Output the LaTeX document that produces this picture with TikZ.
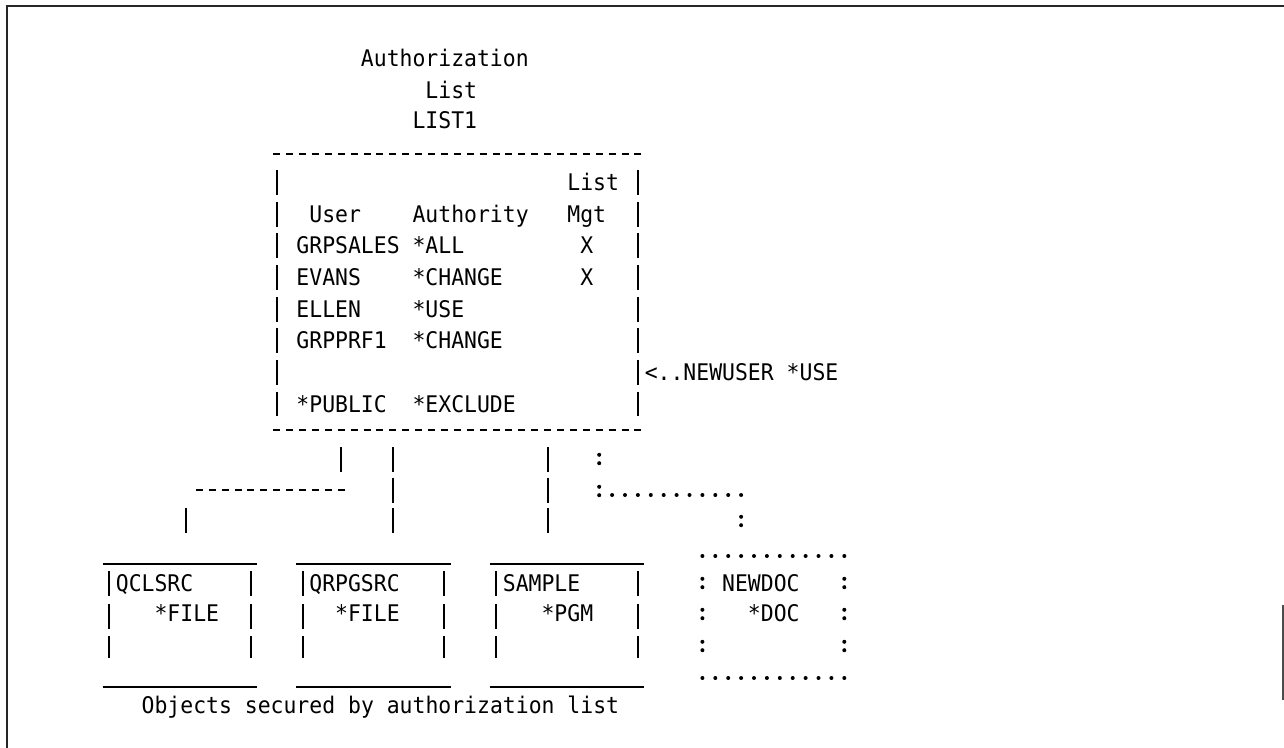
\documentclass[tikz,border=0pt]{standalone}
\usepackage{fontspec}
\usepackage{tikz}
\usetikzlibrary{calc}
\newfontfamily\ibmmono[FakeStretch=0.936]{DejaVu Sans Mono}

\begin{document}
\begin{tikzpicture}[x=6.45pt,y=-0.5pt,
    mono/.style={font=\ibmmono\fontsize{11.45pt}{13pt}\selectfont,inner sep=0pt,anchor=base west},
    hdash/.style={line width=1.35pt,dash pattern=on 3.5pt off 2.95pt},
    vbar/.style={line width=1pt,dash pattern=on 12.5pt off #1},
    dotrow/.style={line width=2pt,line cap=round,dash pattern=on 0pt off 6.45pt},
    boxline/.style={line width=0.95pt}]
  \useasboundingbox (-8.4496,0) rectangle (91.0853,748);
  \newcommand{\colonat}[3]{\coordinate (#3) at (#1,#2);
    \fill ($(#3)+(0,-4.2)$) circle[radius=1pt] ($(#3)+(0,4.2)$) circle[radius=1pt];}

  % Page frame
  \draw[line width=1pt,black!85] (-7.907,748) -- (-7.907,6) -- (91.085,6);
  \draw[line width=1pt,black!70] (91.0,605) -- (91.0,700);

  % Authorization list
  \node[mono] (authtitle) at (19.5,66.4) {Authorization};
  \node[mono] (listtitle) at (24.5,98.4) {List};
  \node[mono] (listname) at (23.5,128.4) {LIST1};

  \coordinate (tbl-nw) at (12.73,154);
  \coordinate (tbl-ne) at (41.27,154);
  \coordinate (tbl-sw) at (12.73,430);
  \coordinate (tbl-se) at (41.27,430);
  \draw[hdash] (tbl-nw) -- (tbl-ne);
  \draw[hdash] (tbl-sw) -- (tbl-se);
  \draw[vbar=3.35pt] (13,170) -- (13,416);
  \draw[vbar=3.35pt] (41,170) -- (41,416);

  \node[mono] (hlist) at (35.5,190.4) {List};
  \node[mono] (huser) at (15.5,222.1) {User};
  \node[mono] (hauth) at (23.5,222.1) {Authority};
  \node[mono] (hmgt) at (35.5,222.1) {Mgt};
  \node[mono] (user1) at (14.5,253.8) {GRPSALES};
  \node[mono] (auth1) at (23.5,253.8) {*ALL};
  \node[mono] (mgt1) at (36.5,253.8) {X};
  \node[mono] (user2) at (14.5,285.5) {EVANS};
  \node[mono] (auth2) at (23.5,285.5) {*CHANGE};
  \node[mono] (mgt2) at (36.5,285.5) {X};
  \node[mono] (user3) at (14.5,317.2) {ELLEN};
  \node[mono] (auth3) at (23.5,317.2) {*USE};
  \node[mono] (user4) at (14.5,348.9) {GRPPRF1};
  \node[mono] (auth4) at (23.5,348.9) {*CHANGE};
  \node[mono] (newuser) at (41.5,380.6) {<..NEWUSER *USE};
  \node[mono] (user5) at (14.5,412.3) {*PUBLIC};
  \node[mono] (auth5) at (23.5,412.3) {*EXCLUDE};

  % Connectors to the objects
  \coordinate (qcl-top) at (18,447);
  \coordinate (qcl-mid) at (18,472);
  \coordinate (qcl-bend) at (6.73,490);
  \coordinate (qcl-end) at (18.27,490);
  \coordinate (qcl-drop) at (6,508);
  \coordinate (qcl-box) at (6,533);
  \draw[vbar=2pt] (qcl-top) -- (qcl-mid);
  \draw[hdash] (qcl-bend) -- (qcl-end);
  \draw[vbar=2pt] (qcl-drop) -- (qcl-box);

  \coordinate (qrp-top) at (22,447);
  \coordinate (qrp-box) at (22,533);
  \draw[vbar=2.75pt] (qrp-top) -- (qrp-box);

  \coordinate (smp-top) at (34,447);
  \coordinate (smp-box) at (34,533);
  \draw[vbar=2.75pt] (smp-top) -- (smp-box);

  \colonat{38}{459}{doc-top}
  \colonat{38}{491}{doc-bend}
  \coordinate (doc-run) at (39,495);
  \coordinate (doc-end) at (49.05,495);
  \draw[dotrow] (doc-run) -- (doc-end);
  \colonat{49}{521}{doc-box}

  % Objects
  \draw[boxline] (-0.5,564) -- (11.5,564) (-0.5,687) -- (11.5,687);
  \draw[vbar=3.75pt] (0,571) -- (0,658);
  \draw[vbar=3.75pt] (11,571) -- (11,658);
  \node[mono] (qclsrc) at (0.5,591.4) {QCLSRC};
  \node[mono] (qclfile) at (3.5,621) {*FILE};

  \draw[boxline] (14.5,564) -- (26.5,564) (14.5,687) -- (26.5,687);
  \draw[vbar=3.75pt] (15,571) -- (15,658);
  \draw[vbar=3.75pt] (26,571) -- (26,658);
  \node[mono] (qrpgsrc) at (15.5,591.4) {QRPGSRC};
  \node[mono] (qrpfile) at (17.5,621) {*FILE};

  \draw[boxline] (29.5,564) -- (41.5,564) (29.5,687) -- (41.5,687);
  \draw[vbar=3.75pt] (30,571) -- (30,658);
  \draw[vbar=3.75pt] (41,571) -- (41,658);
  \node[mono] (sample) at (30.5,591.4) {SAMPLE};
  \node[mono] (smppgm) at (33.5,621) {*PGM};

  \draw[dotrow] (46,556) -- (57.05,556);
  \draw[dotrow] (46,678) -- (57.05,678);
  \foreach \y/\n in {583/a,614/b,646/c} {
    \colonat{46}{\y}{docl-\n}
    \colonat{57}{\y}{docr-\n}
  }
  \node[mono] (newdoc) at (47.5,591.4) {NEWDOC};
  \node[mono] (docdoc) at (49.5,621) {*DOC};

  \node[mono] (caption) at (2.5,713) {Objects secured by authorization list};
\end{tikzpicture}
\end{document}
